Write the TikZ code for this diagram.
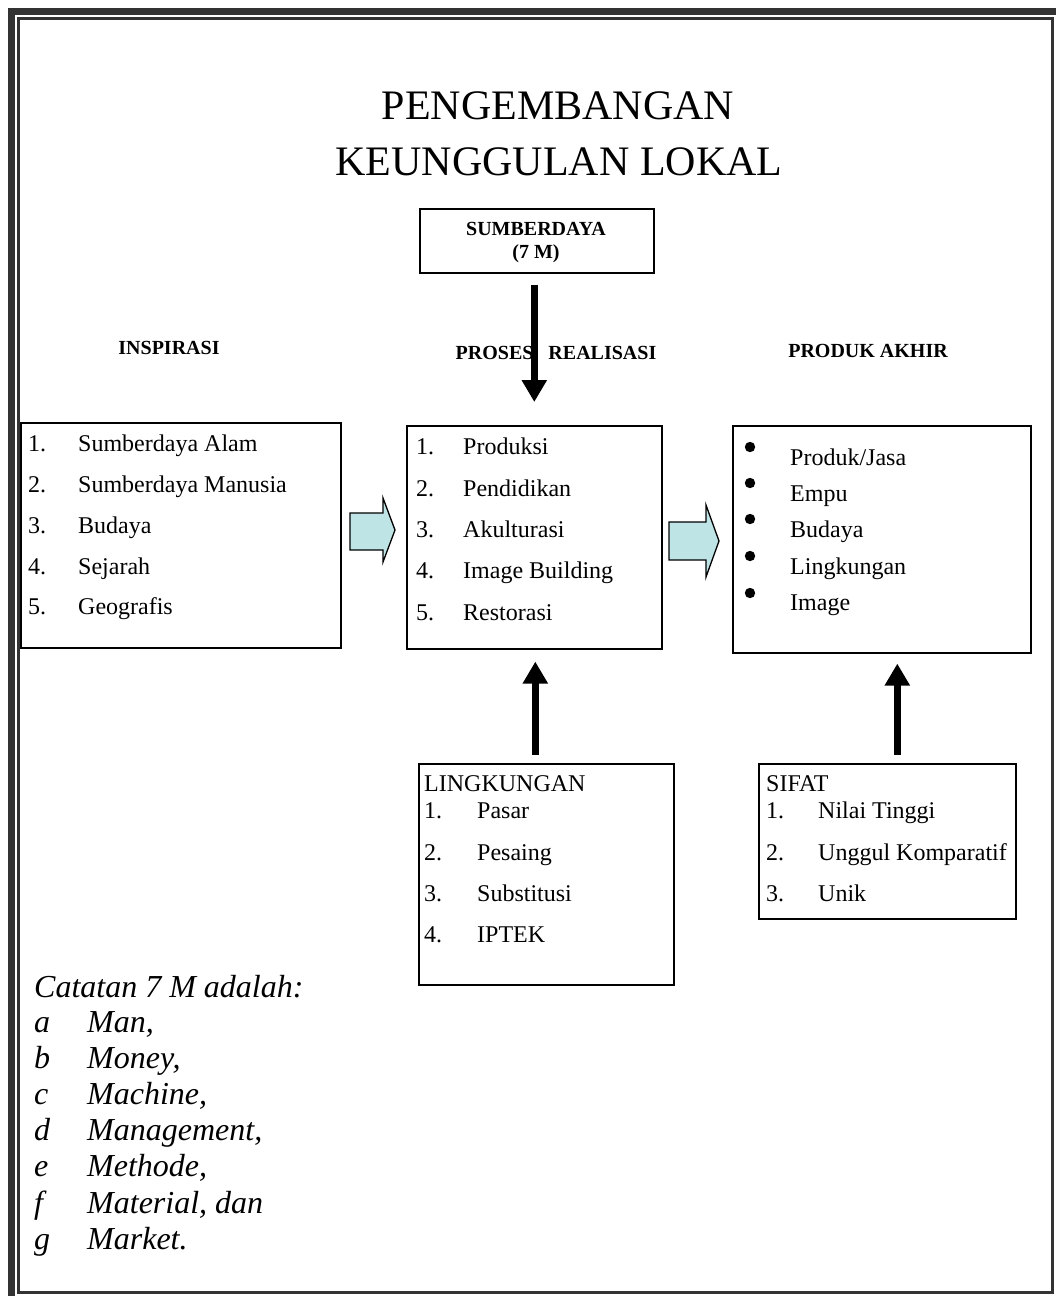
\documentclass[tikz,border=0pt]{standalone}
\usepackage{fontspec}
\setmainfont{Liberation Serif}
\usetikzlibrary{arrows.meta}
\definecolor{frame}{RGB}{51,51,51}
\definecolor{arrowfill}{RGB}{190,228,230}
\begin{document}
\begin{tikzpicture}[x=1pt,y=-1pt,
  box/.style={draw=black, line width=1.6pt, inner sep=0pt, anchor=north west},
  item/.style={anchor=base west, inner sep=0pt, font=\fontsize{24}{28}\selectfont},
  hdr/.style={anchor=base, inner sep=0pt, font=\fontsize{20}{24}\selectfont\bfseries},
  ttl/.style={anchor=base, inner sep=0pt, font=\fontsize{42}{46}\selectfont},
  note/.style={anchor=base west, inner sep=0pt, font=\fontsize{32}{36}\selectfont\itshape},
  bigarrow/.style={-{Triangle[length=22pt,width=24pt]}, line width=7pt},
  blockarrow/.style={draw=black, fill=arrowfill, line width=1.3pt, line join=miter}]
\useasboundingbox (0,0) rectangle (1056,1296);
% page frame
\fill[frame] (8,8) rectangle (1056,15);
\fill[frame] (8,8) rectangle (15,1296);
\draw[frame, line width=2.6pt] (18.5,18.5) rectangle (1052.5,1292.5);
% title
\node[ttl] (t1) at (558,119) {PENGEMBANGAN};
\node[ttl] (t2) at (559,175) {KEUNGGULAN LOKAL};
% boxes
\node[box, minimum width=234, minimum height=64] (sd) at (419,208) {};
\node[hdr] (sd1) at (536,235) {SUMBERDAYA};
\node[hdr] (sd2) at (536,258) {(7 M)};
\node[box, minimum width=320, minimum height=225] (insp) at (20,422) {};
\node[box, minimum width=255, minimum height=223] (proses) at (406,425) {};
\node[box, minimum width=298, minimum height=227] (produk) at (732,425) {};
\node[box, minimum width=255, minimum height=221] (lingk) at (418,763) {};
\node[box, minimum width=257, minimum height=155] (sifat) at (758,763) {};
% headers
\node[hdr] (h1) at (169,354) {INSPIRASI};
\node[hdr] (h2) at (556,359) {PROSES\ \ \ REALISASI};
\node[hdr] (h3) at (868,357) {PRODUK AKHIR};
% inspirasi list
\foreach \n/\t/\y in {1/Sumberdaya Alam/451, 2/Sumberdaya Manusia/492, 3/Budaya/533, 4/Sejarah/574, 5/Geografis/614}{
  \node[item] (in\n) at (28,\y) {\n.};
  \node[item] (it\n) at (78,\y) {\t};
}
% proses list
\foreach \n/\t/\y in {1/Produksi/454, 2/Pendidikan/496, 3/Akulturasi/537, 4/Image Building/578, 5/Restorasi/620}{
  \node[item] (pn\n) at (416,\y) {\n.};
  \node[item] (pt\n) at (463,\y) {\t};
}
% produk list
\foreach \n/\t/\y/\b in {1/Produk\slash Jasa/465/447, 2/Empu/501/483, 3/Budaya/537/519, 4/Lingkungan/574/556, 5/Image/610/593}{
  \fill (750,\b) circle (5.2);
  \node[item] (rt\n) at (790,\y) {\t};
}
% lingkungan
\node[item] (lh) at (424,791) {LINGKUNGAN};
\foreach \n/\t/\y in {1/Pasar/818.5, 2/Pesaing/860, 3/Substitusi/901, 4/IPTEK/942.5}{
  \node[item] (ln\n) at (424,\y) {\n.};
  \node[item] (lt\n) at (477,\y) {\t};
}
% sifat
\node[item] (sh) at (766,791) {SIFAT};
\foreach \n/\t/\y in {1/Nilai Tinggi/818.5, 2/Unggul Komparatif/860, 3/Unik/901}{
  \node[item] (sn\n) at (766,\y) {\n.};
  \node[item] (st\n) at (818,\y) {\t};
}
% notes
\node[note] (nc) at (34,997) {Catatan 7 M adalah:};
\node[note] (nla) at (34,1032) {a}; \node[note] (nta) at (87,1032) {Man,};
\node[note] (nlb) at (34,1068) {b}; \node[note] (ntb) at (87,1068) {Money,};
\node[note] (nlc) at (34,1104) {c}; \node[note] (ntc) at (87,1104) {Machine,};
\node[note] (nld) at (34,1140) {d}; \node[note] (ntd) at (87,1140) {Management,};
\node[note] (nle) at (34,1176) {e}; \node[note] (nte) at (87,1176) {Methode,};
\node[note] (nlf) at (34,1213) {f}; \node[note] (ntf) at (87,1213) {Material, dan};
\node[note] (nlg) at (34,1249) {g}; \node[note] (ntg) at (87,1249) {Market.};
% block arrows
\draw[blockarrow] (350,513) -- (383,513) -- (383,498) -- (395,530) -- (383,562) -- (383,550) -- (350,550) -- cycle;
\draw[blockarrow] (669,522) -- (706,522) -- (706,505) -- (719,541) -- (706,577) -- (706,560) -- (669,560) -- cycle;
% thick arrows
\draw[bigarrow, shorten <=11pt, shorten >=23pt] ([xshift=-2.5pt]sd.south) -- ([xshift=-2.5pt]sd.south |- proses.north);
\draw[bigarrow, shorten <=8pt, shorten >=12pt] ([xshift=-11pt]lingk.north) -- ([xshift=-11pt]lingk.north |- proses.south);
\draw[bigarrow, shorten <=8pt, shorten >=10pt] ([xshift=10pt]sifat.north) -- ([xshift=10pt]sifat.north |- produk.south);
\end{tikzpicture}
\end{document}
